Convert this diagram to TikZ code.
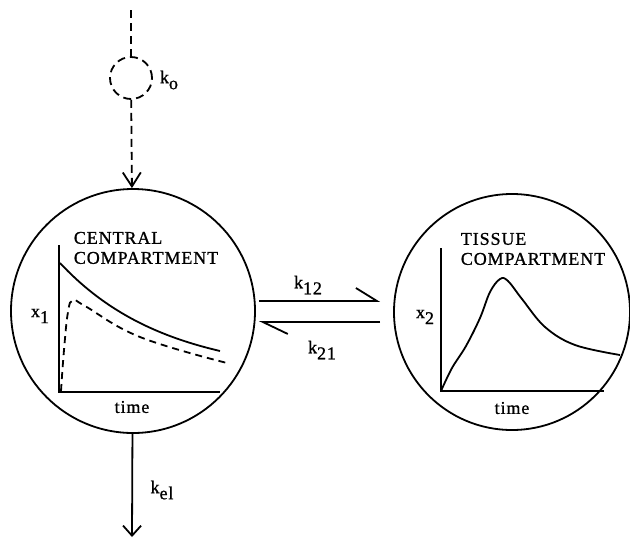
\documentclass[tikz,border=0pt]{standalone}
\usepackage{fontspec}
\setmainfont{Liberation Serif}
\newfontfamily\capfont[LetterSpace=5, FakeBold=1]{Liberation Serif}
\usetikzlibrary{arrows.meta}
\newcommand\lowr[1]{\raisebox{-6pt}{#1}}

\begin{document}
\begin{tikzpicture}[x=1pt, y=-1pt, line width=1.8pt, font=\capfont\fontsize{18}{20}\selectfont,
    comp/.style={draw, circle, minimum size=244pt, inner sep=0pt},
    ttl/.style={align=left, inner sep=0pt, anchor=north west},
    lbl/.style={inner sep=0pt},
    dsh/.style={dash pattern=on 8pt off 5pt}]
  \useasboundingbox (0,0) rectangle (630,539);
  % compartments
  \node[comp] (cen) at (133,311) {};
  \node[comp, minimum size=236pt] (tis) at (512,312) {};
  \node[draw, circle, dsh, minimum size=42pt, inner sep=0pt] (inf) at (131,78) {};
  \coordinate (src) at (131,10);
  \coordinate (out) at (132,537);
  % infusion and elimination
  \draw[dsh] (src) -- (inf);
  \draw[dsh, -{Straight Barb[length=14pt, width=18pt]}] (inf) -- (cen);
  \draw[-{Straight Barb[length=10pt, width=18pt]}] (cen) -- (out);
  \node[lbl] (ko) at (169,80) {k\lowr{o}};
  \node[lbl] (kel) at (162,490) {k\lowr{el}};
  % exchange
  \draw[-{Straight Barb[harpoon, length=21pt, width=26pt]}] ([shift={(3,-10)}]cen.east) -- ([shift={(-13,-11)}]tis.west);
  \draw[-{Straight Barb[harpoon, length=25pt, width=24pt]}] ([shift={(-13,10)}]tis.west) -- ([shift={(3,11)}]cen.east);
  \node[lbl] (k12) at (308,285) {k\lowr{12}};
  \node[lbl] (k21) at (322,350) {k\lowr{21}};
  % central plot
  \node[ttl] (cname) at (73,231) {CENTRAL\\COMPARTMENT};
  \draw (59,245) -- (59,392) -- (220,392);
  \node[lbl] (t1) at (132,407) {time};
  \node[lbl] (x1) at (40,316) {x\lowr{1}};
  \draw plot[domain=60:220, samples=40] (\x, {375.5-112.5*exp(-(\x-60)/105)});
  \draw[dash pattern=on 7pt off 5pt] plot[smooth, tension=0.7] coordinates {(61,391) (64,350) (68,312) (73,300) (85,306) (140,337) (227,363)};
  % tissue plot
  \node[ttl] (tname) at (460,232) {TISSUE\\COMPARTMENT};
  \draw (441,248) -- (441,391) -- (604,391);
  \node[lbl] (t2) at (512,408) {time};
  \node[lbl] (x2) at (425,317) {x\lowr{2}};
  \draw plot[smooth, tension=0.6] coordinates {(441,391) (452,368) (466,346) (480,318) (490,292) (500,279) (508,281) (522,299) (545,327) (575,345) (620,355)};
\end{tikzpicture}
\end{document}
